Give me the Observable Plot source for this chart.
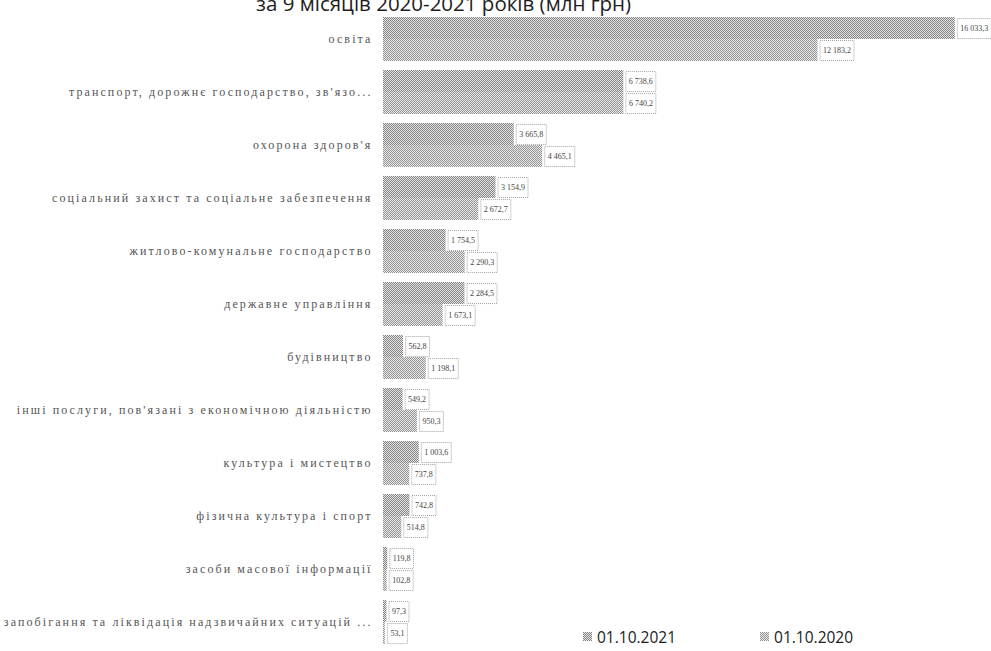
<!DOCTYPE html>
<html>
<head>
<meta charset="utf-8">
<script src="https://cdn.jsdelivr.net/npm/d3@7"></script>
<script src="https://cdn.jsdelivr.net/npm/@observablehq/plot@0.6"></script>
<style>
  body { margin: 0; background: #fff; }
  #wrap { position: relative; width: 991px; height: 651px; overflow: hidden; }
  #title { position: absolute; top: -11px; left: 256px; font-family: "Open Sans", sans-serif; font-size: 20.5px; color: #1e1e1e; white-space: nowrap; }
  #chart { position: absolute; left: 0; top: 0; }
  #chart svg g[aria-label="fy-axis tick label"] text { font-family: "Liberation Serif", serif; font-size: 12px; letter-spacing: 2.1px; fill: #555; }
  #chart svg .vlabel text { font-family: "Liberation Serif", serif; font-size: 8px; fill: #444; }
  #legend { position: absolute; top: 624px; left: 583px; font-family: "Open Sans", sans-serif; font-size: 15.5px; color: #222; white-space: nowrap; }
  #legend span.item { display: inline-flex; align-items: center; margin-right: 84px; }
  #legend svg { margin-right: 5px; }
</style>
</head>
<body>
<div id="wrap">
  <div id="chart"></div>
  <div id="title">за 9 місяців 2020-2021 років (млн грн)</div>
  <div id="legend"></div>
</div>
<script>
const categories = [
  "освіта",
  "транспорт, дорожнє господарство, зв'язо...",
  "охорона здоров'я",
  "соціальний захист та соціальне забезпечення",
  "житлово-комунальне господарство",
  "державне управління",
  "будівництво",
  "інші послуги, пов'язані з економічною діяльністю",
  "культура і мистецтво",
  "фізична культура і спорт",
  "засоби масової інформації",
  "запобігання та ліквідація надзвичайних ситуацій ..."
];
const series = ["01.10.2021", "01.10.2020"];
const v2021 = [16033.3, 6738.6, 3665.8, 3154.9, 1754.5, 2284.5, 562.8, 549.2, 1003.6, 742.8, 119.8, 97.3];
const v2020 = [12183.2, 6740.2, 4465.1, 2672.7, 2290.3, 1673.1, 1198.1, 950.3, 737.8, 514.8, 102.8, 53.1];

const rows = categories.flatMap((c, i) => [
  {cat: c, series: series[0], value: v2021[i]},
  {cat: c, series: series[1], value: v2020[i]}
]);

const fmt = d3.formatLocale({decimal: ",", thousands: "\u00a0", grouping: [3], currency: ["", ""]}).format(",.1f");

const chart = Plot.plot({
  width: 991,
  height: 651,
  marginLeft: 383,
  marginRight: 6,
  marginTop: 14,
  marginBottom: 5,
  x: {domain: [0, 16880], axis: null},
  y: {domain: series, axis: null, padding: 0},
  fy: {domain: categories, padding: 0.16, label: null, tickSize: 0, tickPadding: 11, axis: "left"},
  color: {domain: series, range: ["url(#p21)", "url(#p20)"]},
  marks: [
    Plot.barX(rows, {fy: "cat", y: "series", x: "value", fill: "series"}),
    Plot.text(rows, {fy: "cat", y: "series", x: "value", text: d => fmt(d.value), textAnchor: "start", dx: 5, className: "vlabel"})
  ]
});
document.getElementById("chart").appendChild(chart);

// dither patterns
const ns = "http://www.w3.org/2000/svg";
const defs = document.createElementNS(ns, "defs");
function pattern(id, light, dark) {
  const p = document.createElementNS(ns, "pattern");
  p.setAttribute("id", id);
  p.setAttribute("width", 2); p.setAttribute("height", 2);
  p.setAttribute("patternUnits", "userSpaceOnUse");
  const bg = document.createElementNS(ns, "rect");
  bg.setAttribute("width", 2); bg.setAttribute("height", 2); bg.setAttribute("fill", light);
  p.appendChild(bg);
  for (const [x, y] of [[0, 0], [1, 1]]) {
    const r = document.createElementNS(ns, "rect");
    r.setAttribute("x", x); r.setAttribute("y", y);
    r.setAttribute("width", 1); r.setAttribute("height", 1); r.setAttribute("fill", dark);
    p.appendChild(r);
  }
  defs.appendChild(p);
}
pattern("p21", "#e2e2e2", "#868686");
pattern("p20", "#e8e8e8", "#959595");
chart.insertBefore(defs, chart.firstChild);

// boxes behind value labels
chart.querySelectorAll(".vlabel text").forEach(t => {
  const b = t.getBBox();
  const r = document.createElementNS(ns, "rect");
  r.setAttribute("x", b.x - 3);
  r.setAttribute("y", b.y + b.height / 2 - 10);
  r.setAttribute("width", b.width + 6);
  r.setAttribute("height", 20);
  r.setAttribute("fill", "#fff");
  r.setAttribute("stroke", "#a0a0a0");
  r.setAttribute("stroke-width", 1);
  r.setAttribute("stroke-dasharray", "1,1");
  if (t.getAttribute("transform")) r.setAttribute("transform", t.getAttribute("transform"));
  t.parentNode.insertBefore(r, t);
});

// legend
const leg = document.getElementById("legend");
series.forEach((s, i) => {
  const item = document.createElement("span");
  item.className = "item";
  const light = i ? "#e8e8e8" : "#e2e2e2", dark = i ? "#959595" : "#868686";
  item.innerHTML = `<svg width="9" height="9"><defs><pattern id="lp${i}" width="2" height="2" patternUnits="userSpaceOnUse"><rect width="2" height="2" fill="${light}"/><rect width="1" height="1" fill="${dark}"/><rect x="1" y="1" width="1" height="1" fill="${dark}"/></pattern></defs><rect width="9" height="9" fill="url(#lp${i})"/></svg>${s}`;
  leg.appendChild(item);
});
</script>
</body>
</html>
